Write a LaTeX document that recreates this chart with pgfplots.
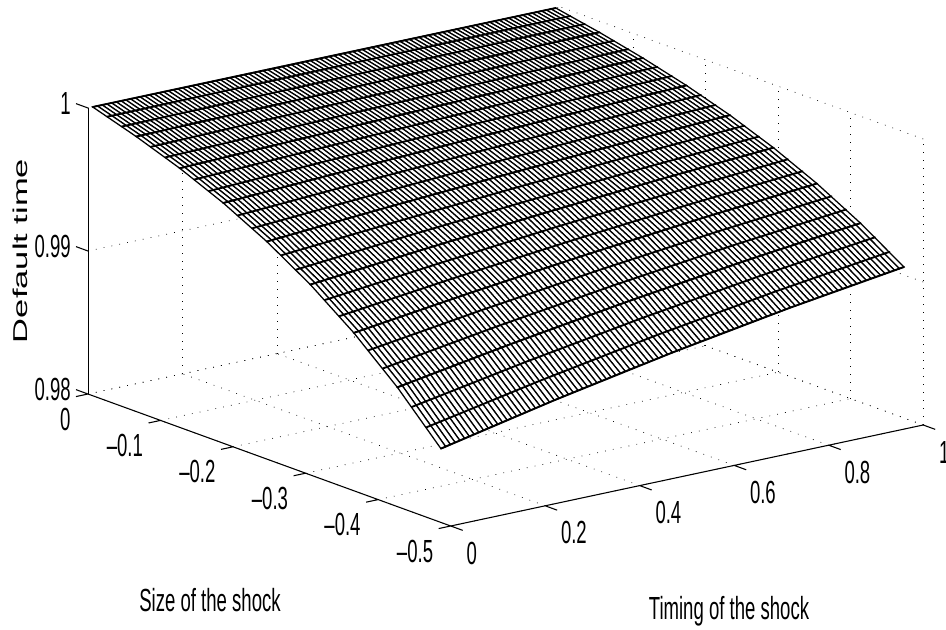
\documentclass[border=0pt]{standalone}
\usepackage{pgfplots}
\pgfplotsset{compat=1.18}
\usepackage{fontspec}
\setmainfont[FakeStretch=0.58]{Liberation Sans}
\newfontfamily\zf{Liberation Sans}
\begin{document}
\begin{tikzpicture}
\useasboundingbox (0,0) rectangle (709.5pt,471.75pt);
\begin{axis}[
  at={(66pt,176.25pt)},anchor=origin,
  x={(354.375pt,75.75pt)},y={(-544.05pt,198pt)},z={(0pt,10725pt)},
  xmin=0,xmax=1,ymin=-0.5,ymax=0,zmin=0.98,zmax=1,
  clip=false,
  axis line style={draw=none},
  grid=major,
  grid style={black,line width=0.5pt,dash pattern=on 0.6pt off 5.4pt},
  major tick length=0pt,
  tick style={draw=none},
  xtick={0,0.2,0.4,0.6,0.8,1},xticklabels={0,0.2,0.4,0.6,0.8,1},
  ytick={-0.5,-0.4,-0.3,-0.2,-0.1,0},yticklabels={--0.5,--0.4,--0.3,--0.2,--0.1,0},
  ztick={0.98,0.99,1},zticklabels={0.98,0.99,1},
  ticklabel style={font=\fontsize{24}{24}\selectfont,inner sep=0pt},
  xticklabel style={anchor=west,xshift=11.65pt,yshift=-20.25pt},
  yticklabel style={anchor=east,xshift=-13pt,yshift=-18.75pt},
  zticklabel style={anchor=east,xshift=-12.75pt,yshift=3.75pt},
  xlabel={Timing of the shock},ylabel={Size of the shock},
  label style={font=\fontsize{24}{24}\selectfont},
  xlabel style={at={(axis cs:0,0,0.98)},anchor=center,rotate=0,xshift=480.75pt,yshift=-162.75pt},
  ylabel style={at={(axis cs:0,0,0.98)},anchor=center,rotate=0,xshift=91.5pt,yshift=-154.5pt},
  colormap={white}{color(0)=(white) color(1)=(white)},
]
\node[inner sep=0pt,xshift=-51pt] at (axis cs:0,0,0.99) {\scalebox{0.58}[1]{\rotatebox{90}{\zf\fontsize{25.9}{26}\selectfont Default time}}};
\addplot3[black,line width=0.8pt,unbounded coords=jump] coordinates {(0,0,0.98)(0,-0.5,0.98)(1,-0.5,0.98)
 (nan,nan,nan)(0,-0.5,0.98)(0,-0.5165,0.98)(nan,nan,nan)(0.2,-0.5,0.98)(0.2,-0.5165,0.98)(nan,nan,nan)(0.4,-0.5,0.98)(0.4,-0.5165,0.98)(nan,nan,nan)(0.6,-0.5,0.98)(0.6,-0.5165,0.98)(nan,nan,nan)(0.8,-0.5,0.98)(0.8,-0.5165,0.98)(nan,nan,nan)(1,-0.5,0.98)(1,-0.5165,0.98)
 (nan,nan,nan)(0,0,0.98)(-0.0254,0,0.98)(nan,nan,nan)(0,-0.1,0.98)(-0.0254,-0.1,0.98)(nan,nan,nan)(0,-0.2,0.98)(-0.0254,-0.2,0.98)(nan,nan,nan)(0,-0.3,0.98)(-0.0254,-0.3,0.98)(nan,nan,nan)(0,-0.4,0.98)(-0.0254,-0.4,0.98)(nan,nan,nan)(0,-0.5,0.98)(-0.0254,-0.5,0.98)
 (nan,nan,nan)(0,0,0.98)(0,0.0165,0.98)(nan,nan,nan)(0,0,0.99)(0,0.0165,0.99)(nan,nan,nan)(0,0,1)(0,0.0165,1)};
\addplot3[black,line width=0.5pt] coordinates {(0,0,0.98)(0,0,1)};
\addplot3[surf,shader=faceted,faceted color=black,line width=0.95pt,mesh/rows=9,mesh/cols=99] table[header=false,x expr={0.01*(1+\coordindex-99*floor((\coordindex+0.5)/99))},y expr={-0.06*floor((\coordindex+0.5)/99)},z index=0] {
1
1
1
1
1
1
1
1
1
1
1
1
1
1
1
1
1
1
1
1
1
1
1
1
1
1
1
1
1
1
1
1
1
1
1
1
1
1
1
1
1
1
1
1
1
1
1
1
1
1
1
1
1
1
1
1
1
1
1
1
1
1
1
1
1
1
1
1
1
1
1
1
1
1
1
1
1
1
1
1
1
1
1
1
1
1
1
1
1
1
1
1
1
1
1
1
1
1
1
0.99904
0.99904
0.99905
0.99905
0.99906
0.99906
0.99907
0.99907
0.99908
0.99908
0.99909
0.99909
0.99910
0.99910
0.99911
0.99911
0.99911
0.99912
0.99912
0.99913
0.99913
0.99913
0.99914
0.99914
0.99915
0.99915
0.99916
0.99916
0.99916
0.99917
0.99917
0.99918
0.99918
0.99918
0.99919
0.99919
0.99920
0.99920
0.99920
0.99921
0.99921
0.99922
0.99922
0.99922
0.99923
0.99923
0.99923
0.99924
0.99924
0.99925
0.99925
0.99925
0.99926
0.99926
0.99927
0.99927
0.99927
0.99928
0.99928
0.99928
0.99929
0.99929
0.99930
0.99930
0.99930
0.99931
0.99931
0.99931
0.99932
0.99932
0.99932
0.99933
0.99933
0.99933
0.99934
0.99934
0.99934
0.99935
0.99935
0.99935
0.99936
0.99936
0.99936
0.99937
0.99937
0.99937
0.99938
0.99938
0.99938
0.99938
0.99939
0.99939
0.99939
0.99939
0.99940
0.99940
0.99940
0.99940
0.99941
0.99793
0.99794
0.99795
0.99796
0.99797
0.99798
0.99799
0.99800
0.99801
0.99802
0.99803
0.99804
0.99805
0.99806
0.99807
0.99808
0.99809
0.99810
0.99810
0.99811
0.99812
0.99813
0.99814
0.99815
0.99816
0.99817
0.99818
0.99819
0.99820
0.99820
0.99821
0.99822
0.99823
0.99824
0.99825
0.99826
0.99826
0.99827
0.99828
0.99829
0.99830
0.99831
0.99832
0.99832
0.99833
0.99834
0.99835
0.99836
0.99837
0.99837
0.99838
0.99839
0.99840
0.99841
0.99842
0.99842
0.99843
0.99844
0.99845
0.99846
0.99846
0.99847
0.99848
0.99849
0.99849
0.99850
0.99851
0.99852
0.99852
0.99853
0.99854
0.99855
0.99855
0.99856
0.99857
0.99857
0.99858
0.99859
0.99860
0.99860
0.99861
0.99862
0.99862
0.99863
0.99864
0.99864
0.99865
0.99866
0.99866
0.99867
0.99867
0.99868
0.99869
0.99869
0.99870
0.99870
0.99871
0.99872
0.99872
0.99661
0.99662
0.99664
0.99666
0.99667
0.99669
0.99671
0.99672
0.99674
0.99675
0.99677
0.99679
0.99680
0.99682
0.99683
0.99685
0.99686
0.99688
0.99690
0.99691
0.99693
0.99694
0.99696
0.99697
0.99699
0.99700
0.99702
0.99703
0.99705
0.99706
0.99708
0.99709
0.99711
0.99712
0.99713
0.99715
0.99716
0.99718
0.99719
0.99721
0.99722
0.99723
0.99725
0.99726
0.99727
0.99729
0.99730
0.99732
0.99733
0.99734
0.99736
0.99737
0.99738
0.99739
0.99741
0.99742
0.99743
0.99745
0.99746
0.99747
0.99749
0.99750
0.99751
0.99752
0.99753
0.99755
0.99756
0.99757
0.99758
0.99760
0.99761
0.99762
0.99763
0.99764
0.99765
0.99766
0.99768
0.99769
0.99770
0.99771
0.99772
0.99773
0.99774
0.99775
0.99776
0.99778
0.99779
0.99780
0.99781
0.99782
0.99783
0.99784
0.99785
0.99786
0.99787
0.99788
0.99789
0.99790
0.99791
0.99502
0.99505
0.99507
0.99510
0.99512
0.99514
0.99517
0.99519
0.99522
0.99524
0.99526
0.99529
0.99531
0.99533
0.99535
0.99538
0.99540
0.99542
0.99545
0.99547
0.99549
0.99551
0.99554
0.99556
0.99558
0.99560
0.99562
0.99565
0.99567
0.99569
0.99571
0.99573
0.99575
0.99578
0.99580
0.99582
0.99584
0.99586
0.99588
0.99590
0.99592
0.99594
0.99596
0.99598
0.99600
0.99602
0.99604
0.99606
0.99608
0.99610
0.99612
0.99614
0.99616
0.99618
0.99620
0.99622
0.99624
0.99625
0.99627
0.99629
0.99631
0.99633
0.99635
0.99637
0.99638
0.99640
0.99642
0.99644
0.99645
0.99647
0.99649
0.99651
0.99652
0.99654
0.99656
0.99657
0.99659
0.99661
0.99662
0.99664
0.99666
0.99667
0.99669
0.99671
0.99672
0.99674
0.99675
0.99677
0.99679
0.99680
0.99682
0.99683
0.99685
0.99686
0.99688
0.99689
0.99691
0.99692
0.99694
0.99312
0.99316
0.99319
0.99322
0.99326
0.99329
0.99332
0.99336
0.99339
0.99342
0.99345
0.99349
0.99352
0.99355
0.99358
0.99361
0.99364
0.99368
0.99371
0.99374
0.99377
0.99380
0.99383
0.99386
0.99389
0.99392
0.99395
0.99398
0.99401
0.99404
0.99408
0.99410
0.99413
0.99416
0.99419
0.99422
0.99425
0.99428
0.99431
0.99434
0.99437
0.99439
0.99442
0.99445
0.99448
0.99450
0.99453
0.99456
0.99459
0.99461
0.99464
0.99467
0.99469
0.99472
0.99475
0.99477
0.99480
0.99482
0.99485
0.99488
0.99490
0.99493
0.99495
0.99498
0.99500
0.99503
0.99505
0.99508
0.99510
0.99513
0.99515
0.99517
0.99520
0.99522
0.99524
0.99527
0.99529
0.99531
0.99534
0.99536
0.99538
0.99540
0.99543
0.99545
0.99547
0.99549
0.99551
0.99554
0.99556
0.99558
0.99560
0.99562
0.99564
0.99566
0.99568
0.99571
0.99573
0.99575
0.99577
0.99085
0.99089
0.99094
0.99098
0.99103
0.99107
0.99112
0.99116
0.99120
0.99125
0.99129
0.99133
0.99138
0.99142
0.99146
0.99150
0.99155
0.99159
0.99163
0.99167
0.99172
0.99176
0.99180
0.99184
0.99188
0.99192
0.99196
0.99200
0.99204
0.99208
0.99212
0.99216
0.99220
0.99223
0.99227
0.99231
0.99235
0.99239
0.99243
0.99247
0.99250
0.99254
0.99258
0.99261
0.99265
0.99269
0.99272
0.99276
0.99280
0.99283
0.99287
0.99291
0.99294
0.99298
0.99301
0.99305
0.99308
0.99311
0.99315
0.99318
0.99322
0.99325
0.99329
0.99332
0.99335
0.99338
0.99342
0.99345
0.99348
0.99352
0.99355
0.99358
0.99361
0.99364
0.99367
0.99371
0.99374
0.99377
0.99380
0.99383
0.99386
0.99389
0.99392
0.99395
0.99398
0.99400
0.99403
0.99406
0.99409
0.99412
0.99415
0.99418
0.99421
0.99423
0.99426
0.99429
0.99432
0.99434
0.99437
0.98815
0.98821
0.98827
0.98832
0.98838
0.98844
0.98850
0.98855
0.98861
0.98867
0.98872
0.98878
0.98883
0.98889
0.98894
0.98900
0.98905
0.98911
0.98916
0.98922
0.98927
0.98932
0.98938
0.98943
0.98948
0.98953
0.98959
0.98964
0.98969
0.98974
0.98980
0.98984
0.98989
0.98994
0.98999
0.99004
0.99009
0.99014
0.99019
0.99024
0.99029
0.99034
0.99039
0.99044
0.99048
0.99053
0.99058
0.99063
0.99067
0.99072
0.99077
0.99081
0.99086
0.99090
0.99095
0.99099
0.99104
0.99108
0.99113
0.99117
0.99122
0.99126
0.99131
0.99135
0.99139
0.99143
0.99148
0.99152
0.99156
0.99160
0.99165
0.99169
0.99173
0.99177
0.99181
0.99185
0.99189
0.99193
0.99197
0.99201
0.99205
0.99209
0.99212
0.99216
0.99220
0.99224
0.99228
0.99231
0.99235
0.99239
0.99243
0.99246
0.99250
0.99253
0.99257
0.99260
0.99264
0.99267
0.99271
0.98497
0.98504
0.98512
0.98519
0.98526
0.98534
0.98541
0.98548
0.98555
0.98563
0.98570
0.98577
0.98584
0.98591
0.98598
0.98605
0.98612
0.98618
0.98625
0.98632
0.98639
0.98646
0.98652
0.98659
0.98666
0.98672
0.98679
0.98686
0.98692
0.98699
0.98706
0.98712
0.98718
0.98725
0.98731
0.98737
0.98744
0.98750
0.98756
0.98763
0.98769
0.98775
0.98781
0.98787
0.98793
0.98799
0.98805
0.98811
0.98817
0.98823
0.98829
0.98835
0.98841
0.98846
0.98852
0.98858
0.98864
0.98869
0.98875
0.98881
0.98886
0.98892
0.98897
0.98903
0.98908
0.98913
0.98919
0.98924
0.98930
0.98935
0.98940
0.98945
0.98950
0.98956
0.98961
0.98966
0.98971
0.98976
0.98981
0.98986
0.98991
0.98996
0.99001
0.99005
0.99010
0.99015
0.99020
0.99025
0.99029
0.99034
0.99039
0.99044
0.99048
0.99053
0.99057
0.99062
0.99066
0.99071
0.99075
};
\addplot3[black,line width=1.4pt,unbounded coords=jump,line cap=round] table {
0.01 0 1
0.50 0 1
0.99 0 1
nan nan nan
0.01 -0.02 0.99969
0.25 -0.02 0.99973
0.50 -0.02 0.99976
0.75 -0.02 0.99979
0.99 -0.02 0.99981
nan nan nan
0.01 -0.04 0.99937
0.25 -0.04 0.99944
0.50 -0.04 0.99951
0.75 -0.04 0.99957
0.99 -0.04 0.99962
nan nan nan
0.01 -0.06 0.99904
0.25 -0.06 0.99915
0.50 -0.06 0.99925
0.75 -0.06 0.99934
0.99 -0.06 0.99941
nan nan nan
0.01 -0.08 0.99869
0.25 -0.08 0.99884
0.50 -0.08 0.99897
0.75 -0.08 0.99909
0.99 -0.08 0.99919
nan nan nan
0.01 -0.10 0.99832
0.25 -0.10 0.99851
0.50 -0.10 0.99868
0.75 -0.10 0.99884
0.99 -0.10 0.99897
nan nan nan
0.01 -0.12 0.99793
0.25 -0.12 0.99816
0.50 -0.12 0.99838
0.75 -0.12 0.99857
0.99 -0.12 0.99872
nan nan nan
0.01 -0.14 0.99751
0.25 -0.14 0.99779
0.50 -0.14 0.99805
0.75 -0.14 0.99828
0.99 -0.14 0.99847
nan nan nan
0.01 -0.16 0.99707
0.25 -0.16 0.99740
0.50 -0.16 0.99771
0.75 -0.16 0.99798
0.99 -0.16 0.99820
nan nan nan
0.01 -0.18 0.99661
0.25 -0.18 0.99699
0.50 -0.18 0.99734
0.75 -0.18 0.99765
0.99 -0.18 0.99791
nan nan nan
0.01 -0.20 0.99611
0.25 -0.20 0.99655
0.50 -0.20 0.99695
0.75 -0.20 0.99731
0.99 -0.20 0.99761
nan nan nan
0.01 -0.22 0.99558
0.25 -0.22 0.99608
0.50 -0.22 0.99654
0.75 -0.22 0.99695
0.99 -0.22 0.99728
nan nan nan
0.01 -0.24 0.99502
0.25 -0.24 0.99558
0.50 -0.24 0.99610
0.75 -0.24 0.99656
0.99 -0.24 0.99694
nan nan nan
0.01 -0.26 0.99443
0.25 -0.26 0.99505
0.50 -0.26 0.99564
0.75 -0.26 0.99615
0.99 -0.26 0.99657
nan nan nan
0.01 -0.28 0.99379
0.25 -0.28 0.99449
0.50 -0.28 0.99514
0.75 -0.28 0.99571
0.99 -0.28 0.99618
nan nan nan
0.01 -0.30 0.99312
0.25 -0.30 0.99389
0.50 -0.30 0.99461
0.75 -0.30 0.99525
0.99 -0.30 0.99577
nan nan nan
0.01 -0.32 0.99241
0.25 -0.32 0.99326
0.50 -0.32 0.99406
0.75 -0.32 0.99475
0.99 -0.32 0.99533
nan nan nan
0.01 -0.34 0.99165
0.25 -0.34 0.99259
0.50 -0.34 0.99346
0.75 -0.34 0.99423
0.99 -0.34 0.99486
nan nan nan
0.01 -0.36 0.99085
0.25 -0.36 0.99188
0.50 -0.36 0.99284
0.75 -0.36 0.99368
0.99 -0.36 0.99437
nan nan nan
0.01 -0.38 0.99000
0.25 -0.38 0.99112
0.50 -0.38 0.99217
0.75 -0.38 0.99309
0.99 -0.38 0.99385
nan nan nan
0.01 -0.40 0.98910
0.25 -0.40 0.99033
0.50 -0.40 0.99147
0.75 -0.40 0.99247
0.99 -0.40 0.99329
nan nan nan
0.01 -0.42 0.98815
0.25 -0.42 0.98948
0.50 -0.42 0.99072
0.75 -0.42 0.99181
0.99 -0.42 0.99271
nan nan nan
0.01 -0.44 0.98715
0.25 -0.44 0.98859
0.50 -0.44 0.98994
0.75 -0.44 0.99112
0.99 -0.44 0.99209
nan nan nan
0.01 -0.46 0.98609
0.25 -0.46 0.98765
0.50 -0.46 0.98911
0.75 -0.46 0.99038
0.99 -0.46 0.99144
nan nan nan
0.01 -0.48 0.98497
0.25 -0.48 0.98666
0.50 -0.48 0.98823
0.75 -0.48 0.98961
0.99 -0.48 0.99075
};
\end{axis}
\end{tikzpicture}
\end{document}
